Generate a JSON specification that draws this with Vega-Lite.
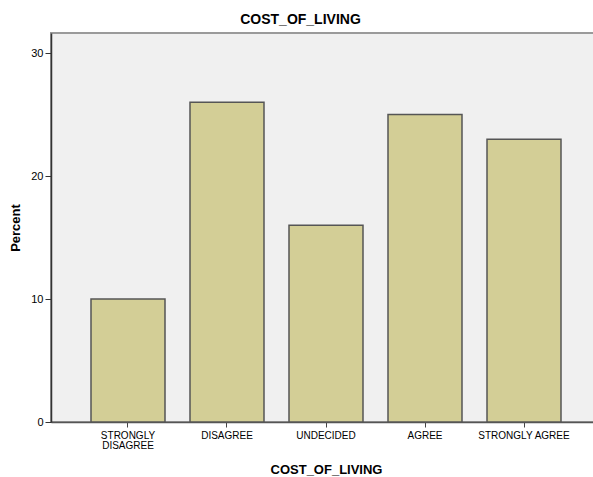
{
  "$schema": "https://vega.github.io/schema/vega-lite/v6.json",
  "autosize": {"type": "none"},
  "padding": {"left": 51, "top": 33, "right": 0, "bottom": 55},
  "width": 545,
  "height": 389,
  "background": "white",
  "title": {"text": "COST_OF_LIVING", "font": "Liberation Sans", "fontSize": 14, "fontWeight": "bold", "color": "black", "anchor": "middle", "dx": -23, "offset": 6},
  "config": {
    "view": {"fill": "#F0F0F0", "stroke": "#9A9A9A", "strokeWidth": 2},
    "font": "Liberation Sans"
  },
  "data": {
    "values": [
      {"category": "STRONGLY DISAGREE", "percent": 10},
      {"category": "DISAGREE", "percent": 26},
      {"category": "UNDECIDED", "percent": 16},
      {"category": "AGREE", "percent": 25},
      {"category": "STRONGLY AGREE", "percent": 23}
    ]
  },
  "mark": {"type": "bar", "fill": "#D3CE96", "stroke": "#555555", "strokeWidth": 1.5},
  "encoding": {
    "x": {
      "field": "category", "type": "nominal", "sort": null,
      "scale": {"range": [0, 550], "paddingInner": 0.2525, "paddingOuter": 0.404},
      "axis": {
        "title": "COST_OF_LIVING", "titleFont": "Liberation Sans", "titleFontSize": 13, "titleFontWeight": "bold", "titleColor": "black", "titlePadding": 13,
        "labelAngle": 0, "labelFontSize": 10, "labelColor": "black", "labelLineHeight": 10, "labelPadding": 3,
        "labelExpr": "datum.label == 'STRONGLY DISAGREE' ? ['STRONGLY', 'DISAGREE'] : datum.label",
        "tickSize": 5, "tickColor": "#444444", "domainColor": "#555555", "domainWidth": 1.5, "labelBound": false, "labelOverlap": false
      }
    },
    "y": {
      "field": "percent", "type": "quantitative",
      "scale": {"domain": [0, 31.63], "nice": false},
      "axis": {
        "title": "Percent", "titleFontSize": 13, "titleFontWeight": "bold", "titleColor": "black", "titlePadding": 8,
        "values": [0, 10, 20, 30], "grid": false, "labelFontSize": 11, "labelColor": "black", "labelPadding": 2,
        "tickSize": 6, "tickColor": "#333333", "domainColor": "#333333", "domainWidth": 1.5
      }
    }
  }
}
